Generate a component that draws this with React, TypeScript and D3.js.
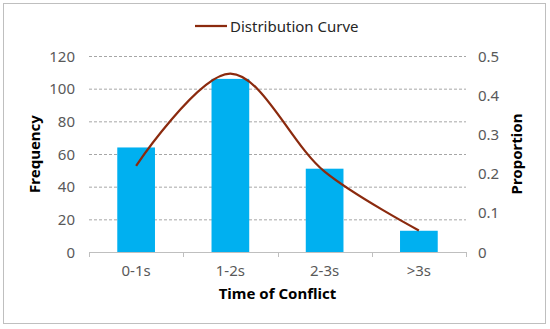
import React, { useEffect, useRef } from 'react';
import * as d3 from 'd3';

const categories = ['0-1s', '1-2s', '2-3s', '>3s'];
const frequency = [64, 106, 51, 13];
const proportion = [0.22, 0.455, 0.205, 0.055];
const leftTicks = [0, 20, 40, 60, 80, 100, 120];
const rightTicks = [0, 0.1, 0.2, 0.3, 0.4, 0.5];

const W = 550;
const H = 329;
const FONT = '"Noto Sans", "DejaVu Sans", sans-serif';

const App: React.FC = () => {
  const svgRef = useRef<SVGSVGElement>(null);

  useEffect(() => {
    if (!svgRef.current) return;
    const svg = d3.select(svgRef.current);
    svg.selectAll('*').remove();

    const margin = { top: 56, left: 89, right: 84, bottom: 77 };
    const innerW = W - margin.left - margin.right;
    const innerH = H - margin.top - margin.bottom;

    // outer frame
    svg.append('rect')
      .attr('x', 3.5).attr('y', 3.5)
      .attr('width', 542).attr('height', 320)
      .attr('fill', '#fff')
      .attr('stroke', '#bfbfbf');

    const g = svg.append('g').attr('transform', `translate(${margin.left},${margin.top})`);

    const x = d3.scaleBand().domain(categories).range([0, innerW]).paddingInner(0.6).paddingOuter(0.3);
    const band = d3.scaleBand().domain(categories).range([0, innerW]);
    const yL = d3.scaleLinear().domain([0, 120]).range([innerH, 0]);
    const yR = d3.scaleLinear().domain([0, 0.5]).range([innerH, 0]);

    // gridlines
    g.selectAll('.grid')
      .data(leftTicks.slice(1))
      .enter()
      .append('line')
      .attr('x1', 0).attr('x2', innerW)
      .attr('y1', d => yL(d) + 0.5).attr('y2', d => yL(d) + 0.5)
      .attr('stroke', '#a6a6a6')
      .attr('stroke-dasharray', '3,2');

    // bars
    g.selectAll('.bar')
      .data(frequency)
      .enter()
      .append('rect')
      .attr('x', (_, i) => x(categories[i])!)
      .attr('y', d => yL(d))
      .attr('width', x.bandwidth())
      .attr('height', d => innerH - yL(d))
      .attr('fill', '#00b0f0');

    // x axis line and ticks
    g.append('line')
      .attr('x1', 0).attr('x2', innerW)
      .attr('y1', innerH + 0.5).attr('y2', innerH + 0.5)
      .attr('stroke', '#bfbfbf');
    const boundaries = [...categories.map(c => band(c)!), innerW];
    g.selectAll('.xtick')
      .data(boundaries)
      .enter()
      .append('line')
      .attr('x1', d => Math.round(d) + 0.5).attr('x2', d => Math.round(d) + 0.5)
      .attr('y1', innerH).attr('y2', innerH + 5)
      .attr('stroke', '#bfbfbf');

    g.selectAll('.xlab')
      .data(categories)
      .enter()
      .append('text')
      .attr('x', d => band(d)! + band.bandwidth() / 2)
      .attr('y', innerH + 24)
      .attr('text-anchor', 'middle')
      .style('font-family', FONT)
      .style('font-size', '15px')
      .style('fill', '#595959')
      .text(d => d);

    // left tick labels
    g.selectAll('.ylab')
      .data(leftTicks)
      .enter()
      .append('text')
      .attr('x', -14)
      .attr('y', d => yL(d) + 5.5)
      .attr('text-anchor', 'end')
      .style('font-family', FONT)
      .style('font-size', '15px')
      .style('fill', '#595959')
      .text(d => d);

    // right tick labels
    g.selectAll('.rlab')
      .data(rightTicks)
      .enter()
      .append('text')
      .attr('x', innerW + 12)
      .attr('y', d => yR(d) + 5.5)
      .attr('text-anchor', 'start')
      .style('font-family', FONT)
      .style('font-size', '15px')
      .style('fill', '#595959')
      .text(d => (d === 0 ? '0' : String(d)));

    // distribution curve
    const line = d3.line<number>()
      .x((_, i) => band(categories[i])! + band.bandwidth() / 2)
      .y(d => yR(d))
      .curve(d3.curveCatmullRom.alpha(0.5));
    g.append('path')
      .datum(proportion)
      .attr('d', line)
      .attr('fill', 'none')
      .attr('stroke', '#8b2a0e')
      .attr('stroke-width', 2.25);

    // axis titles
    svg.append('text')
      .attr('transform', `translate(40,${margin.top + innerH / 2}) rotate(-90)`)
      .attr('text-anchor', 'middle')
      .style('font-family', FONT)
      .style('font-size', '15px')
      .style('font-weight', 'bold')
      .style('fill', '#000')
      .text('Frequency');

    svg.append('text')
      .attr('transform', `translate(522,${margin.top + innerH / 2}) rotate(-90)`)
      .attr('text-anchor', 'middle')
      .style('font-family', FONT)
      .style('font-size', '15px')
      .style('font-weight', 'bold')
      .style('fill', '#000')
      .text('Proportion');

    svg.append('text')
      .attr('x', margin.left + innerW / 2)
      .attr('y', 299)
      .attr('text-anchor', 'middle')
      .style('font-family', FONT)
      .style('font-size', '15px')
      .style('font-weight', 'bold')
      .style('fill', '#000')
      .text('Time of Conflict');

    // legend
    const legend = svg.append('g').attr('transform', 'translate(195,26)');
    legend.append('line')
      .attr('x1', 0).attr('x2', 32)
      .attr('y1', 0).attr('y2', 0)
      .attr('stroke', '#8b2a0e')
      .attr('stroke-width', 2.25);
    legend.append('text')
      .attr('x', 35)
      .attr('y', 5.5)
      .style('font-family', FONT)
      .style('font-size', '15px')
      .style('fill', '#262626')
      .text('Distribution Curve');
  }, []);

  return (
    <svg
      ref={svgRef}
      width={W}
      height={H}
      style={{ position: 'absolute', left: 0, top: 0 }}
    />
  );
};

export default App;
